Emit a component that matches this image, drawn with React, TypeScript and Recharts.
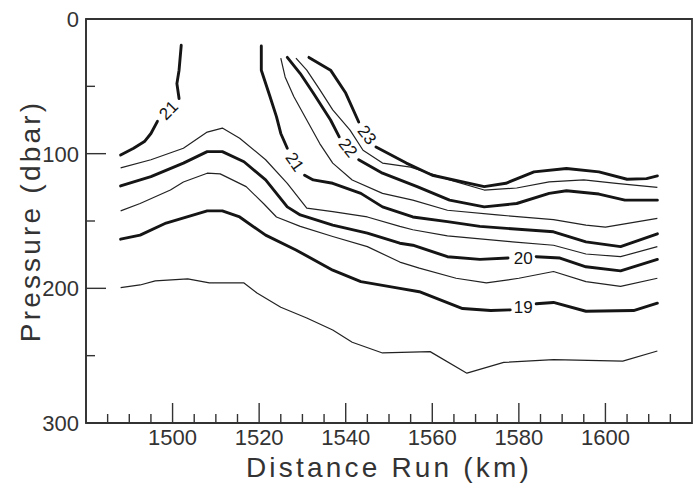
import React from 'react';
import { ComposedChart, Line, XAxis, YAxis, ReferenceArea, ReferenceDot, Label } from 'recharts';

type Pt = [number, number];

// ---- axis ticks ----
const xTicks = [1480, 1485, 1490, 1495, 1500, 1505, 1510, 1515, 1520, 1525, 1530, 1535, 1540, 1545, 1550, 1555, 1560, 1565, 1570, 1575, 1580, 1585, 1590, 1595, 1600, 1605, 1610, 1615, 1620];
const xTickLabels = [1500, 1520, 1540, 1560, 1580, 1600];
const yTicks = [0, 50, 100, 150, 200, 250, 300];
const yTickLabels = [0, 100, 200, 300];

// ---- isotherms: [distance km, pressure dbar] ----
const iso185: Pt[] = [[1488, 199.5], [1492.5, 197.5], [1496, 194.5], [1503.5, 193], [1508.5, 196], [1516.5, 196], [1519.5, 203.5], [1525, 214], [1531, 222], [1537, 231], [1541.5, 240], [1548.5, 248], [1559.5, 247], [1568, 263], [1576.5, 255], [1588, 253], [1604, 254], [1612, 246.5]];

const iso19a: Pt[] = [[1488, 163.5], [1492.5, 160.5], [1498.5, 151.5], [1508, 142.5], [1511.5, 142.5], [1515.5, 147], [1521.5, 160.5], [1528.5, 171.5], [1537, 186.5], [1543.5, 195], [1552.5, 200], [1557, 202.5], [1567, 215], [1573.5, 216.5], [1578, 216]];
const iso19b: Pt[] = [[1584, 211.5], [1588, 210.5], [1595.5, 217], [1606.5, 216.5], [1612, 211]];

const iso195: Pt[] = [[1488, 142.5], [1492.5, 137], [1499.5, 127], [1502.5, 121], [1508, 114.5], [1511, 115], [1517, 124.5], [1521, 137], [1524, 147], [1529.5, 154], [1537, 161.5], [1545, 169], [1552.5, 180.5], [1557, 185], [1565.5, 192.5], [1572.5, 196], [1580, 192.5], [1588, 187.5], [1595.5, 195], [1603.5, 198.5], [1612, 192.5]];

const iso20a: Pt[] = [[1488, 124], [1495, 117], [1502.5, 107], [1508, 98.5], [1511.5, 98.5], [1516.5, 106], [1521.5, 119.5], [1526.5, 139.5], [1529.5, 145.5], [1537, 153], [1545, 159], [1552.5, 166.5], [1555.5, 168], [1563.5, 176.5], [1571, 178.5], [1577.5, 177.5]];
const iso20b: Pt[] = [[1584, 176.5], [1589.5, 177.5], [1595.5, 184], [1603.5, 187], [1612, 178.5]];

const iso205: Pt[] = [[1488, 110.5], [1495, 104.5], [1502.5, 96], [1508, 84], [1511.5, 81], [1515.5, 88.5], [1521.5, 104.5], [1526.5, 122], [1531, 140.5], [1537, 143], [1545, 147], [1552.5, 154], [1555.5, 156.5], [1563.5, 161], [1578.5, 165.5], [1588, 168], [1595.5, 174.5], [1603.5, 176.5], [1612, 169]];

const iso21La: Pt[] = [[1488, 101], [1491, 96], [1493.5, 91], [1495, 85], [1496.5, 76]];
const iso21Lb: Pt[] = [[1501.5, 59], [1501, 48], [1501.5, 38], [1502, 19.5]];
const iso21Ra: Pt[] = [[1520.5, 20], [1520.5, 38], [1522.5, 57.5], [1524, 72.5], [1525, 85], [1526.5, 96]];
const iso21Rb: Pt[] = [[1530.5, 116], [1532.5, 119.5], [1537, 122], [1543.5, 129.5], [1548.5, 139.5], [1555.5, 147], [1563.5, 150.5], [1571, 154], [1588, 158], [1595.5, 165.5], [1603.5, 169], [1612, 159.5]];

const iso215: Pt[] = [[1525, 29], [1526, 43], [1528, 57.5], [1531, 75], [1534, 92.5], [1537, 107], [1541.5, 119.5], [1548.5, 129.5], [1555.5, 134.5], [1563.5, 142], [1575, 145.5], [1588, 149], [1595.5, 153], [1600, 154.5], [1612, 148]];

const iso22a: Pt[] = [[1526.5, 28.5], [1529.5, 40.5], [1532.5, 55], [1536.5, 75], [1538.5, 87.5]];
const iso22b: Pt[] = [[1543, 104.5], [1548.5, 114.5], [1556.5, 124.5], [1564, 134.5], [1572, 139.5], [1579.5, 137], [1587, 129.5], [1591, 127.5], [1598.5, 130], [1604.5, 134.5], [1612, 134.5]];

const iso225: Pt[] = [[1528.5, 29], [1531, 38], [1534, 52.5], [1537, 67.5], [1541, 82.5], [1544, 97.5], [1548.5, 107], [1555, 110], [1564, 119.5], [1572, 127], [1579.5, 125.5], [1587, 121], [1595, 119.5], [1602.5, 122], [1612, 125]];

const iso23a: Pt[] = [[1531.5, 28.5], [1536.5, 38], [1540, 55], [1543, 76.5]];
const iso23b: Pt[] = [[1547, 95], [1554, 107], [1560, 116], [1572, 124.5], [1577, 122], [1583.5, 113.5], [1591, 111], [1598.5, 113.5], [1605, 119], [1609.5, 118.5], [1612, 116.5]];

// contour labels: [distance, pressure]
const labelText = ['21', '21', '22', '23', '20', '19'];
const labelPos: Pt[] = [[1499, 67.5], [1528.3, 106], [1540.6, 95.5], [1545, 86], [1581, 177.5], [1581, 213.5]];
const labelAngle = [-45, 55, 52, 52, 0, 0];

const FONT = '"Liberation Sans", Arial, sans-serif';
const INK = '#151515';

const thick = [iso19a, iso19b, iso20a, iso20b, iso21La, iso21Lb, iso21Ra, iso21Rb, iso22a, iso22b, iso23a, iso23b];
const thin = [iso185, iso195, iso205, iso215, iso225];

const rows = (pts: Pt[]) => pts.map(([x, p]) => ({ x, p }));

const XTick = (props: any) => {
  const { x, y, payload } = props;
  const v = payload.value;
  if (v === 1480 || v === 1620) return null;
  const major = xTickLabels.includes(v);
  return (
    <g>
      <line x1={x} x2={x} y1={y} y2={y - (major ? 20 : 9)} stroke="#333" strokeWidth={1.4} />
      {major && (
        <text x={x} y={y + 22} textAnchor="middle" fontFamily={FONT} fontSize={22} fill="#333">
          {v}
        </text>
      )}
    </g>
  );
};

const YTick = (props: any) => {
  const { x, y, payload } = props;
  const v = payload.value;
  const major = yTickLabels.includes(v);
  const inner = v === 0 || v === 300 ? 0 : major ? 20 : 9;
  return (
    <g>
      {inner > 0 && <line x1={x} x2={x + inner} y1={y} y2={y} stroke="#333" strokeWidth={1.4} />}
      {major && (
        <text x={x - 7} y={y} dy="0.36em" textAnchor="end" fontFamily={FONT} fontSize={22} fill="#333">
          {v}
        </text>
      )}
    </g>
  );
};

const YTitle = (props: any) => {
  const vb = props.viewBox;
  const cx = vb.x + 30;
  const cy = vb.y + vb.height / 2;
  return (
    <text x={cx} y={cy} dy="0.36em" textAnchor="middle" transform={`rotate(-90, ${cx}, ${cy})`} fontFamily={FONT} fontSize={28} letterSpacing={3.2} fill="#333">
      Pressure (dbar)
    </text>
  );
};

export default function App() {
  return (
    <div style={{ position: 'absolute', left: 0, top: 0, background: '#fff' }}>
      <ComposedChart width={696} height={483} margin={{ top: 19, right: 4, bottom: 0, left: 0 }}>
        <XAxis
          dataKey="x"
          type="number"
          domain={[1480, 1620]}
          ticks={xTicks}
          interval={0}
          tick={<XTick />}
          tickLine={false}
          tickSize={0}
          tickMargin={0}
          height={60}
          allowDataOverflow
          axisLine={{ stroke: '#333', strokeWidth: 1.6 }}
        >
          <Label
            value="Distance Run (km)"
            position="insideBottom"
            offset={6}
            style={{ fontFamily: FONT, fontSize: 28, letterSpacing: 3.2, fill: '#333' }}
          />
        </XAxis>
        <YAxis
          type="number"
          domain={[0, 300]}
          reversed
          ticks={yTicks}
          interval={0}
          tick={<YTick />}
          tickLine={false}
          tickSize={0}
          tickMargin={0}
          width={86}
          allowDataOverflow
          axisLine={{ stroke: '#333', strokeWidth: 1.6 }}
        >
          <Label content={<YTitle />} />
        </YAxis>
        <ReferenceArea x1={1480} x2={1620} y1={0} y2={300} fill="none" stroke="#333" strokeWidth={1.8} ifOverflow="visible" />
        {thin.map((pts, i) => (
          <Line
            key={`thin${i}`}
            data={rows(pts)}
            dataKey="p"
            type="linear"
            stroke="#222"
            strokeWidth={1.2}
            dot={false}
            activeDot={false}
            isAnimationActive={false}
            strokeLinejoin="round"
          />
        ))}
        {thick.map((pts, i) => (
          <Line
            key={`thick${i}`}
            data={rows(pts)}
            dataKey="p"
            type="linear"
            stroke={INK}
            strokeWidth={2.9}
            dot={false}
            activeDot={false}
            isAnimationActive={false}
            strokeLinejoin="round"
            strokeLinecap="round"
          />
        ))}
        {labelPos.map(([x, p], i) => (
          <ReferenceDot
            key={`lab${i}`}
            x={x}
            y={p}
            r={1}
            ifOverflow="visible"
            shape={(sp: any) => (
              <text
                x={sp.cx}
                y={sp.cy}
                dy="0.36em"
                textAnchor="middle"
                transform={`rotate(${labelAngle[i]}, ${sp.cx}, ${sp.cy})`}
                fontFamily={FONT}
                fontSize={17}
                fill={INK}
              >
                {labelText[i]}
              </text>
            )}
          />
        ))}
      </ComposedChart>
    </div>
  );
}
